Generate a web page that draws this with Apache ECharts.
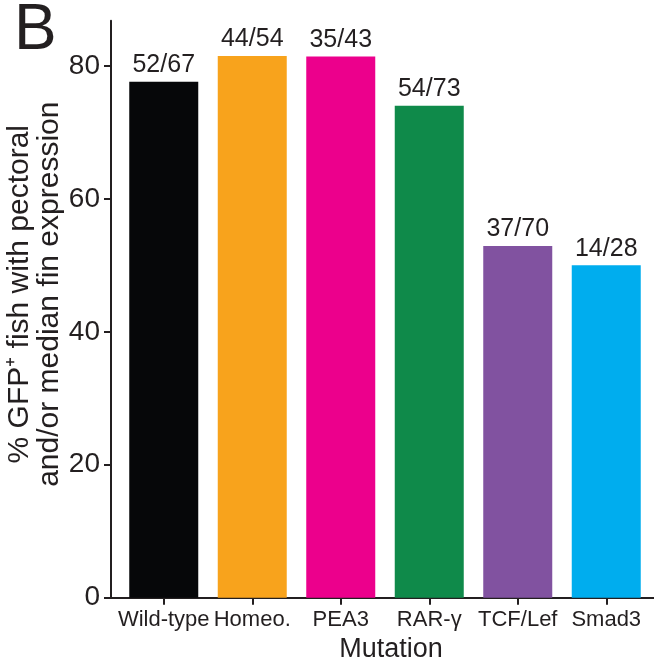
<!DOCTYPE html>
<html>
<head>
<meta charset="utf-8">
<script src="https://cdn.jsdelivr.net/npm/echarts@6/dist/echarts.min.js"></script>
<style>html,body{margin:0;padding:0;background:#fff}#c{width:654px;height:658px}</style>
</head>
<body>
<div id="c"></div>
<script>
const categories = ['Wild-type', 'Homeo.', 'PEA3', 'RAR-γ', 'TCF/Lef', 'Smad3'];
const positives = [52, 44, 35, 54, 37, 14];
const totals = [67, 54, 43, 73, 70, 28];
const percentages = [77.6, 81.5, 81.4, 74.0, 52.9, 50.0];
const barColors = ['#060709', '#f8a31c', '#ec008c', '#0f8a4a', '#8152a0', '#00adee'];
const yTicks = [0, 20, 40, 60, 80];

const FONT = '"Liberation Sans", Arial, Helvetica, sans-serif';
const INK = '#231f20';

const chart = echarts.init(document.getElementById('c'), null, {renderer: 'canvas'});
chart.setOption({
  backgroundColor: '#fff',
  animation: false,
  title: {
    text: 'B', left: 9, top: -6,
    textStyle: {fontFamily: FONT, fontSize: 64, fontWeight: 'normal', color: INK}
  },
  grid: [
    {left: 119.5, right: 3.5, top: 20.7, bottom: 60.3, containLabel: false, outerBoundsMode: 'none'},
    {left: 111, right: 0, top: 66, bottom: 60.3, containLabel: false, outerBoundsMode: 'none'}
  ],
  xAxis: [
    {
      type: 'category', gridIndex: 0, data: categories,
      axisLine: {show: false},
      axisTick: {show: true, alignWithLabel: true, length: 7, lineStyle: {color: INK, width: 2}},
      axisLabel: {interval: 0, margin: 11, fontFamily: FONT, fontSize: 22, color: INK},
      name: 'Mutation', nameLocation: 'middle', nameGap: 36,
      nameTextStyle: {fontFamily: FONT, fontSize: 27, color: INK, padding: [0, 0, 0, 12]}
    },
    {
      type: 'value', gridIndex: 1, min: 0, max: 1,
      axisLine: {show: true, lineStyle: {color: INK, width: 2}},
      axisTick: {show: false}, axisLabel: {show: false}, splitLine: {show: false}
    }
  ],
  yAxis: [
    {
      type: 'value', gridIndex: 0, min: 0, max: 86.8, offset: 8.5,
      axisLine: {show: true, lineStyle: {color: INK, width: 2}},
      axisTick: {show: false}, axisLabel: {show: false}, splitLine: {show: false},
      name: '% GFP\u207A fish with pectoral\nand/or median fin expression',
      nameLocation: 'middle', nameGap: 46,
      nameTextStyle: {fontFamily: FONT, fontSize: 30, lineHeight: 30, color: INK, padding: [0, 0, 0, 30]}
    },
    {
      type: 'value', gridIndex: 1, min: yTicks[0], max: yTicks[yTicks.length - 1], interval: 20,
      axisLine: {show: false},
      axisTick: {show: true, length: 7, lineStyle: {color: INK, width: 2}},
      axisLabel: {margin: 11, fontFamily: FONT, fontSize: 28, color: INK},
      splitLine: {show: false}
    }
  ],
  series: [{
    type: 'bar', xAxisIndex: 0, yAxisIndex: 0,
    barWidth: 69,
    data: percentages.map((v, i) => ({value: v, itemStyle: {color: barColors[i]}})),
    label: {
      show: true, position: 'top', distance: 4,
      fontFamily: FONT, fontSize: 25, color: INK,
      formatter: p => positives[p.dataIndex] + '/' + totals[p.dataIndex]
    }
  }]
});
</script>
</body>
</html>
